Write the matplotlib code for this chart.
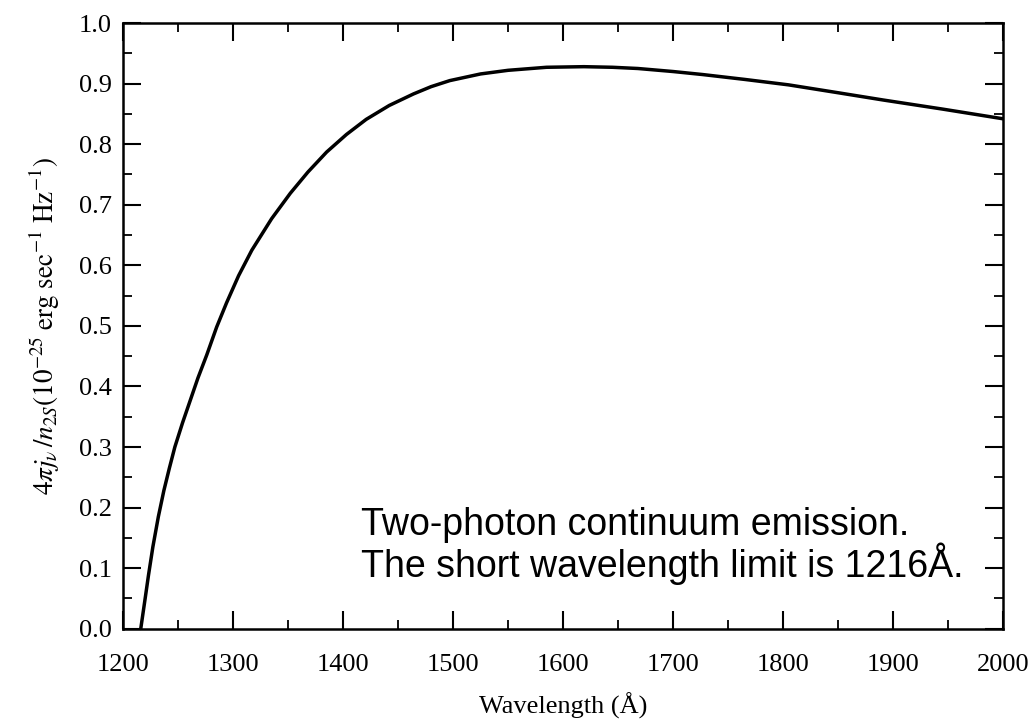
import numpy as np
import matplotlib
matplotlib.use("Agg")
import matplotlib.pyplot as plt
from matplotlib.ticker import MultipleLocator

# two-photon continuum, emissivity per 2S atom
wavelength = [1216, 1218, 1220, 1223, 1227, 1232, 1237, 1242, 1247, 1254,
              1261, 1268, 1276, 1285, 1294, 1305, 1317, 1335, 1352, 1368,
              1385, 1403, 1421, 1442, 1464, 1480, 1497, 1525, 1550, 1585,
              1619, 1645, 1668, 1700, 1727, 1765, 1805, 1850, 1891, 1945,
              2000]
emissivity = [0.000, 0.025, 0.050, 0.088, 0.135, 0.185, 0.228, 0.265, 0.300, 0.340,
              0.377, 0.414, 0.452, 0.498, 0.538, 0.583, 0.625, 0.677, 0.719, 0.754,
              0.787, 0.816, 0.841, 0.864, 0.883, 0.895, 0.905, 0.916, 0.922, 0.927,
              0.928, 0.927, 0.925, 0.920, 0.915, 0.907, 0.898, 0.885, 0.873, 0.858,
              0.842]

note_lines = ["Two-photon continuum emission.",
              "The short wavelength limit is 1216Å."]

plt.rcParams['mathtext.fontset'] = 'stix'
serif = 'Liberation Serif'

fig = plt.figure(figsize=(10.35, 7.21), dpi=100)
ax = fig.add_axes([0.119, 0.128, 0.850, 0.840])

ax.plot(wavelength, emissivity, color='black', lw=2.5,
        solid_joinstyle='round')

ax.set_xlim(1200, 2000)
ax.set_ylim(0.0, 1.0)
ax.xaxis.set_major_locator(MultipleLocator(100))
ax.xaxis.set_minor_locator(MultipleLocator(50))
ax.yaxis.set_major_locator(MultipleLocator(0.1))
ax.yaxis.set_minor_locator(MultipleLocator(0.05))
ax.yaxis.set_major_formatter(plt.FormatStrFormatter('%.1f'))

ax.tick_params(which='both', direction='in', top=True, right=True,
               colors='black')
ax.tick_params(which='major', length=13, width=1.5)
ax.tick_params(which='minor', length=6.5, width=1.3)
ax.tick_params(axis='x', which='major', pad=18)
ax.tick_params(axis='y', which='major', pad=8)
for lab in ax.get_xticklabels() + ax.get_yticklabels():
    lab.set_fontfamily(serif)
    lab.set_fontsize(19)
for sp in ax.spines.values():
    sp.set_linewidth(1.8)

ax.set_xlabel('Wavelength (Å)', fontfamily=serif, fontsize=19)
ax.xaxis.set_label_coords(0.5, -0.105)
ax.set_ylabel(r'$4\pi j_{\nu}\,/n_{2S}(10^{-25}\ \mathrm{erg\ sec^{-1}\ Hz^{-1}})$',
              fontsize=19.5)
ax.yaxis.set_label_coords(-0.069, 0.5)

ax.text(0.27, (629 - 535) / 606, note_lines[0], transform=ax.transAxes,
        fontfamily='Liberation Sans', fontsize=27, va='baseline', ha='left')
ax.text(0.27, (629 - 577) / 606, note_lines[1], transform=ax.transAxes,
        fontfamily='Liberation Sans', fontsize=27, va='baseline', ha='left')

fig.savefig('out.png', dpi=100)
